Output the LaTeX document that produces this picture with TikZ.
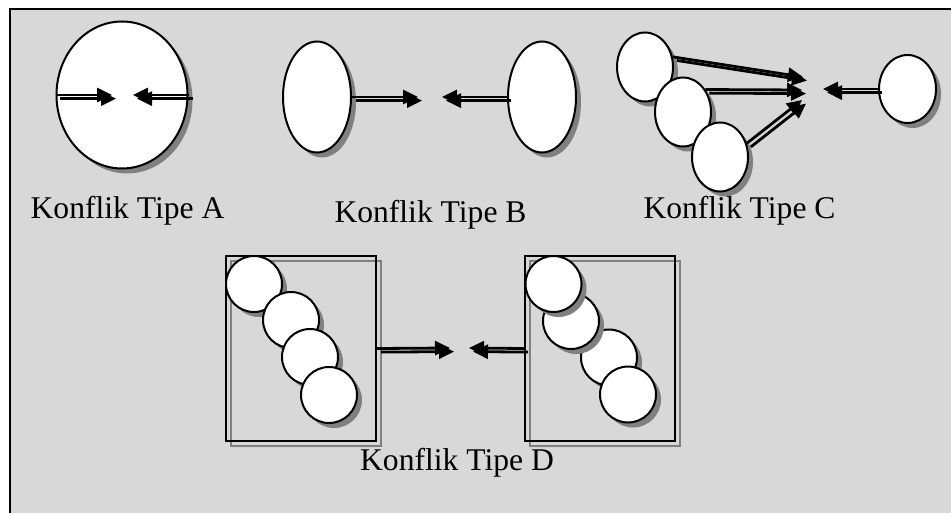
\documentclass[tikz,border=0pt]{standalone}
\usepackage{fontspec}
\setmainfont{Liberation Serif}
\usetikzlibrary{arrows.meta,shapes.geometric,shadows}

\definecolor{panel}{HTML}{D8D8D8}
\definecolor{shade}{HTML}{808080}

\tikzset{
  blob/.style={ellipse,draw,line width=1pt,fill=white,inner sep=0pt,
    drop shadow={shadow xshift=2.5pt,shadow yshift=-2.5pt,fill=shade,opacity=1}},
  grp/.style={rectangle,draw,line width=1pt,inner sep=0pt,
    minimum width=75pt,minimum height=92.5pt,
    general shadow={shadow xshift=2.5pt,shadow yshift=-2.5pt,draw=shade,line width=1pt}},
  arr/.style={line width=1.4pt,-{Triangle[length=7.5pt,width=7pt]}},
  arrshadow/.style={arr,shade,transform canvas={shift={(2pt,-1.8pt)}}},
  lbl/.style={font=\fontsize{15.8pt}{19pt}\selectfont,anchor=base,inner sep=0pt}
}

\begin{document}
\begin{tikzpicture}[x=0.5pt,y=-0.5pt]
  \useasboundingbox (0,0) rectangle (951,513);
  \fill[panel] (9.5,9.5) rectangle (951,513);
  \draw[line width=1pt] (9.5,513) -- (9.5,9.5) -- (951,9.5);

  % tipe A
  \node[blob,minimum width=65.5pt,minimum height=73.5pt] (A) at (122,95) {};
  \coordinate (tA1) at (112,95);
  \coordinate (tA2) at (133,95);
  \draw[arrshadow] (A.west) -- (tA1);
  \draw[arrshadow] (A.east) -- (tA2);
  \draw[arr] (A.west) -- (tA1);
  \draw[arr] (A.east) -- (tA2);
  \node[lbl] (labA) at (127.5,219) {Konflik Tipe A};

  % tipe B
  \node[blob,minimum width=34pt,minimum height=55.5pt] (B1) at (317,97) {};
  \node[blob,minimum width=34pt,minimum height=55.5pt] (B2) at (542,97) {};
  \coordinate (tB1) at (418,97);
  \coordinate (tB2) at (442,97);
  \draw[arrshadow] (B1.east) -- (tB1);
  \draw[arrshadow] (B2.west) -- (tB2);
  \draw[arr] (B1.east) -- (tB1);
  \draw[arr] (B2.west) -- (tB2);
  \node[lbl] (labB) at (430.5,222) {Konflik Tipe B};

  % tipe C
  \node[blob,minimum width=28pt,minimum height=34.5pt] (C1) at (645,67) {};
  \node[blob,minimum width=28pt,minimum height=34.5pt] (C2) at (683,112) {};
  \node[blob,minimum width=28pt,minimum height=34.5pt] (C3) at (720,157) {};
  \node[blob,minimum width=28.5pt,minimum height=34pt] (C4) at (907.5,89) {};
  \coordinate (tC1) at (803,77);
  \coordinate (tC2) at (802,90);
  \coordinate (tC3) at (802,100);
  \coordinate (tC4) at (823,89);
  \draw[arrshadow] (C1.20) -- (tC1);
  \draw[arrshadow] (C2.45) -- (tC2);
  \draw[arrshadow] (C3.27) -- (tC3);
  \draw[arrshadow] (C4.west) -- (tC4);
  \draw[arr] (C1.20) -- (tC1);
  \draw[arr] (C2.45) -- (tC2);
  \draw[arr] (C3.27) -- (tC3);
  \draw[arr] (C4.west) -- (tC4);
  \node[lbl] (labC) at (739.5,218) {Konflik Tipe C};

  % tipe D
  \node[grp] (DL) at (301,348.5) {};
  \node[grp] (DR) at (600,348.5) {};
  \node[blob,minimum size=28pt] (L1) at (254,284) {};
  \node[blob,minimum size=28pt] (L2) at (291,320) {};
  \node[blob,minimum size=28pt] (L3) at (310,357) {};
  \node[blob,minimum size=28pt] (L4) at (329,395) {};
  \node[blob,minimum size=28pt] (R3) at (609,357.5) {};
  \node[blob,minimum size=28pt] (R4) at (628,394.5) {};
  \node[blob,minimum size=28pt] (R2) at (571,321) {};
  \node[blob,minimum size=28pt] (R1) at (553.5,284) {};
  \coordinate (tD1) at (450,348);
  \coordinate (tD2) at (469,348);
  \draw[arrshadow] (DL.east) -- (tD1);
  \draw[arrshadow] (DR.west) -- (tD2);
  \draw[arr] (DL.east) -- (tD1);
  \draw[arr] (DR.west) -- (tD2);
  \node[lbl] (labD) at (457,470) {Konflik Tipe D};
\end{tikzpicture}
\end{document}
